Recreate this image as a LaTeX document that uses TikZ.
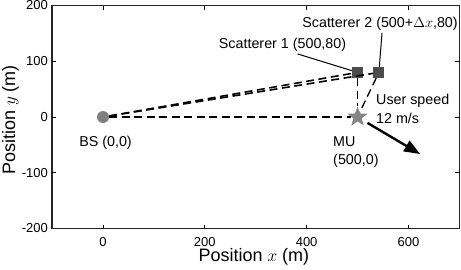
\documentclass[tikz,border=0pt]{standalone}
\usepackage{fontspec}
\setmainfont{Liberation Sans}
\usetikzlibrary{arrows.meta,shapes.geometric}

\begin{document}
\begin{tikzpicture}[x=0.509pt, y=0.5575pt,
  lbl/.style={font=\fontsize{14.3}{18.5}\selectfont, inner sep=0pt},
  ticklbl/.style={font=\fontsize{13}{15}\selectfont, inner sep=0pt},
  axlbl/.style={font=\fontsize{18}{21}\selectfont, inner sep=0pt},
  ray/.style={line width=1.6pt, dash pattern=on 8pt off 4.5pt},
  lead/.style={line width=1pt}]

\useasboundingbox (-202.4,209.9) rectangle (703.3,-274.4);

% --- Riquadro assi ---
\draw[line width=1.3pt, black!85] (-100,-200) rectangle (700,200);
% tacche asse x (in basso e in alto)
\draw[line width=0.8pt] (0,-200) -- (0,-192.8);   \draw[line width=0.8pt] (0,200) -- (0,192.8);
\draw[line width=0.8pt] (200,-200) -- (200,-192.8); \draw[line width=0.8pt] (200,200) -- (200,192.8);
\draw[line width=0.8pt] (400,-200) -- (400,-192.8); \draw[line width=0.8pt] (400,200) -- (400,192.8);
\draw[line width=0.8pt] (600,-200) -- (600,-192.8); \draw[line width=0.8pt] (600,200) -- (600,192.8);
% tacche asse y (a sinistra e a destra)
\draw[line width=0.8pt] (-100,-100) -- (-92,-100); \draw[line width=0.8pt] (700,-100) -- (692,-100);
\draw[line width=0.8pt] (-100,0) -- (-92,0);       \draw[line width=0.8pt] (700,0) -- (692,0);
\draw[line width=0.8pt] (-100,100) -- (-92,100);   \draw[line width=0.8pt] (700,100) -- (692,100);
% etichette tacche
\node[ticklbl] (tx0) at (0,-224.2) {0};
\node[ticklbl] (tx200) at (200,-224.2) {200};
\node[ticklbl] (tx400) at (400,-224.2) {400};
\node[ticklbl] (tx600) at (600,-224.2) {600};
\node[ticklbl, anchor=east] (ty200) at (-108,200) {200};
\node[ticklbl, anchor=east] (ty100) at (-108,100) {100};
\node[ticklbl, anchor=east] (ty0) at (-108,0) {0};
\node[ticklbl, anchor=east] (tym100) at (-108,-100) {-100};
\node[ticklbl, anchor=east] (tym200) at (-108,-200) {-200};
% titoli assi
\node[axlbl] (xlab) at (296.3,-250.5) {Position $x$ (m)};
\node[axlbl, rotate=90] (ylab) at (-181.7,-5.4) {Position $y$ (m)};

% --- Stazione base, scatterer, utente ---
\node[circle, fill=black!50, minimum size=12pt, inner sep=0pt] (bs) at (0,0) {};
\node[rectangle, fill=black!70, minimum size=11pt, inner sep=0pt] (s1) at (500,80) {};
\node[rectangle, fill=black!70, minimum size=11pt, inner sep=0pt] (s2) at (542,80) {};
\node[star, star points=5, star point ratio=2.4, fill=black!48,
      minimum size=21pt, inner sep=0pt] (mu) at (500,0) {};

% percorsi (tratteggiati)
\draw[ray] (bs) -- (s1);
\draw[ray] (bs) -- (s2);
\draw[ray, line width=1.3pt] (bs) -- (mu);
\draw[ray] (s1) -- (mu);
\draw[ray, line width=1.3pt] (s2) -- (mu);

% velocita' utente
\coordinate (vtip) at (623,-66.4);
\draw[line width=2.4pt, shorten <=6pt, -{Triangle[length=16pt, width=12pt]}] (mu) -- (vtip);

% --- Etichette ---
\node[lbl] (bslab) at (4.9,-46.6) {BS (0,0)};
\node[lbl] (s1lab) at (352.7,129.1) {Scatterer 1 (500,80)};
\node[lbl] (s2lab) at (544.2,166.8) {Scatterer 2 (500+$\Delta x$,80)};
\node[lbl, anchor=west, align=left] (vlab) at (536.3,14.3) {User speed\\12 m/s};
\node[lbl, anchor=west, align=left] (mulab) at (451.9,-62.8) {MU\\(500,0)};
\draw[lead] ([xshift=15pt, yshift=-2pt]s1lab.south) -- (s1);
\draw[lead] ([xshift=2pt, yshift=-2pt]s2lab.south) -- (s2);

\end{tikzpicture}
\end{document}
